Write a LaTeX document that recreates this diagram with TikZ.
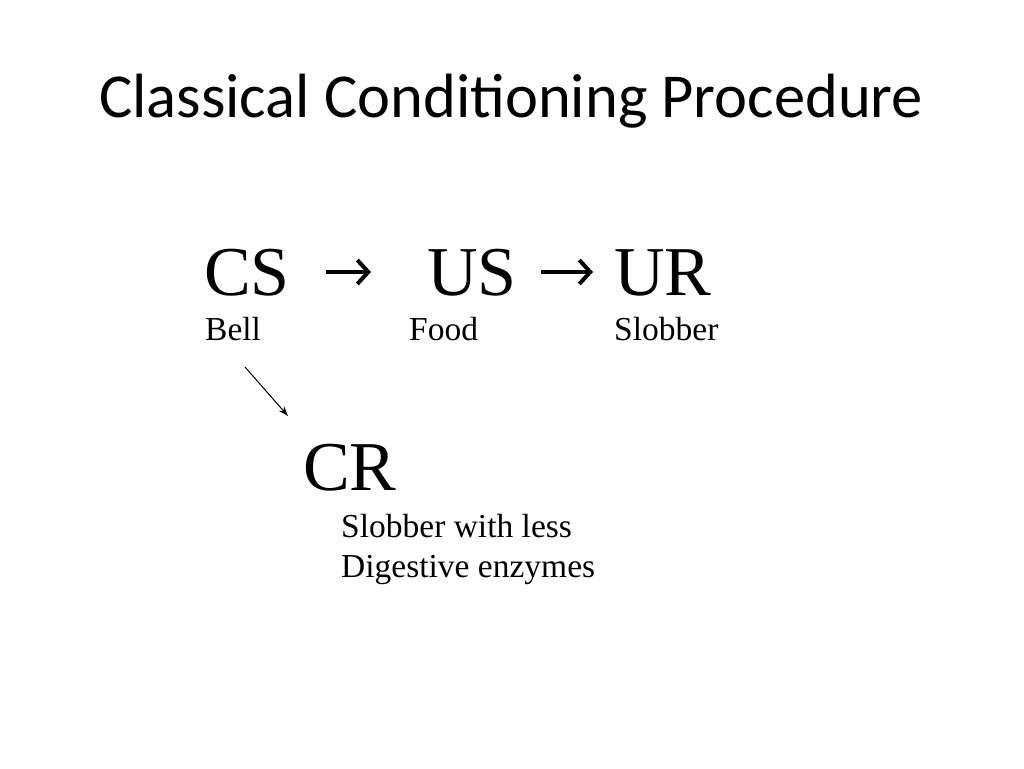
\documentclass[tikz,border=0pt]{standalone}
\usepackage{fontspec}
\setmainfont{Liberation Serif}
\newfontfamily\titlefont{Carlito}
\usetikzlibrary{arrows.meta}
\begin{document}
\begin{tikzpicture}[x=1pt,y=-1pt,
  big/.style={anchor=base west,inner sep=0pt,font=\fontsize{70}{80}\selectfont},
  small/.style={anchor=base west,inner sep=0pt,font=\fontsize{33.5}{38}\selectfont},
  bold arrow/.style={line width=4pt,-{Straight Barb[length=11pt,width=24pt]}}]
\useasboundingbox (0,0) rectangle (1024,768);
\node[anchor=base west,inner sep=0pt,font=\titlefont\fontsize{62.5}{66}\selectfont] (title) at (99,117) {Classical Conditioning Procedure};
\node[big] (cs) at (204,295) {CS};
\node[big] (us) at (427,295) {US};
\node[big] (ur) at (614,295) {UR};
\node[big] (cr) at (303,490) {CR};
\node[small] (bell) at (205,340) {Bell};
\node[small] (food) at (409,340) {Food};
\node[small] (slob) at (614,340) {Slobber};
\node[small] (cr1) at (341,537) {Slobber with less};
\node[small] (cr2) at (341,577) {Digestive enzymes};
\coordinate (a1s) at (326,272); \coordinate (a1e) at (371,272);
\coordinate (a2s) at (541,272); \coordinate (a2e) at (593,272);
\draw[bold arrow] (a1s) -- (a1e);
\draw[bold arrow] (a2s) -- (a2e);
\coordinate (ds) at (245,367); \coordinate (de) at (288,416);
\draw[line width=1pt,-{Stealth[length=10pt,width=7pt]}] (ds) -- (de);
\end{tikzpicture}
\end{document}
